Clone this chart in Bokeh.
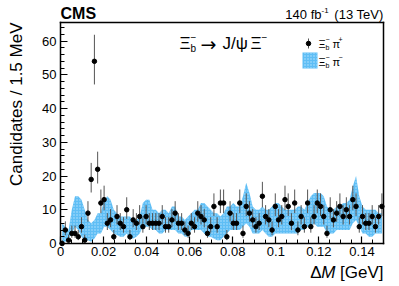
import numpy as np
from bokeh.plotting import figure
from bokeh.models import Range1d, FixedTicker, Label, LinearAxis
from bokeh.embed import file_html
from bokeh.resources import INLINE

# ---- data ----
bin_width = 0.0015
n_bins = 100
counts = [0, 4, 1, 3, 3, 2, 5, 1, 9, 19,
          54, 22, 12, 13, 6, 7, 2, 8, 6, 5,
          10, 2, 7, 6, 8, 5, 8, 6, 6, 6,
          6, 8, 5, 5, 7, 9, 6, 6, 4, 3,
          6, 5, 9, 8, 7, 3, 5, 11, 5, 12,
          12, 2, 9, 6, 6, 12, 3, 11, 9, 7,
          5, 6, 14, 8, 7, 4, 11, 7, 8, 13,
          11, 6, 12, 4, 8, 5, 12, 5, 8, 12,
          11, 8, 3, 10, 7, 9, 11, 8, 10, 8,
          13, 11, 5, 8, 6, 6, 8, 5, 8, 11]
ws_hi = [6, 5, 4, 10, 14, 14, 13, 10, 7, 6,
         7, 9, 9, 13, 14, 13, 10, 9, 8, 8,
         8, 8, 7, 7, 8, 12, 13, 13, 10, 10,
         9, 10, 10, 9, 11, 11, 8, 8, 7, 8,
         9, 10, 10, 12, 12, 11, 10, 9, 9, 8,
         9, 11, 11, 12, 11, 11, 14, 18, 15, 11,
         10, 10, 11, 10, 10, 11, 12, 12, 11, 10,
         10, 10, 10, 11, 11, 10, 12, 14, 15, 15,
         15, 14, 11, 10, 10, 11, 11, 12, 12, 13,
         17, 20, 14, 11, 10, 10, 10, 10, 9, 9]
ws_lo = [0.3, 0.5, 1.5, 3, 5, 4, 2, 1, 1, 0.5,
         1.5, 3, 3, 5, 5, 4, 3, 2.5, 2, 2,
         3, 1.5, 1.5, 2, 3, 5, 5, 5, 4, 4,
         3, 3, 4, 4, 4, 4, 3, 3, 2, 2,
         4, 4, 4, 4, 3, 2, 2, 1.5, 1, 1,
         2, 3, 4, 4, 4, 4, 5, 6, 5, 3,
         3, 3, 4, 3, 2, 2, 3, 3, 3, 3,
         3, 3, 3, 3, 4, 4, 5, 5, 6, 5,
         5, 5, 3, 3, 3, 4, 4, 4, 4, 4,
         6, 7, 5, 3, 3, 2, 2, 3, 3, 3]
x_ticks = [0, 0.02, 0.04, 0.06, 0.08, 0.1, 0.12, 0.14]
x_tick_labels = ["0", "0.02", "0.04", "0.06", "0.08", "0.1", "0.12", "0.14"]
y_ticks = [0, 10, 20, 30, 40, 50, 60]
y_tick_labels = ["0", "10", "20", "30", "40", "50", "60"]

centers = [(i + 0.5) * bin_width for i in range(n_bins)]
cnt = np.array(counts, dtype=float)
err_up = 0.5 + np.sqrt(cnt + 0.25)
err_dn = np.sqrt(cnt + 0.25) - 0.5

X0, X1 = 0.0, 0.15
Y0, Y1 = 0.0, 65.5

# data box in picture pixels, canvas size
FL, FR, FT, FB = 60, 383, 22, 243
W, H = 391, 284
sx = (X1 - X0) / (FR - FL)
sy = (Y1 - Y0) / (FB - FT)
xr = Range1d(X0 - FL * sx, X1 + (W - FR) * sx)
yr = Range1d(Y0 - (H - FB) * sy, Y1 + FT * sy)

p = figure(width=W, height=H, output_backend="svg", toolbar_location=None,
           x_range=xr, y_range=yr, min_border=0,
           min_border_left=0, min_border_right=0, min_border_top=0,
           min_border_bottom=0)
p.title.visible = False
p.grid.visible = False
p.background_fill_color = "white"
p.border_fill_color = "white"
p.outline_line_color = None

FONT = "Liberation Sans"


def style_axis(ax, ticks=True):
    ax.axis_line_width = 1.5
    ax.axis_line_cap = "square"
    ax.axis_line_color = "black"
    ax.major_tick_out = 0
    ax.minor_tick_out = 0
    ax.major_tick_in = 7 if ticks else 0
    ax.minor_tick_in = 4 if ticks else 0
    ax.major_tick_line_width = 1.2
    ax.minor_tick_line_width = 1
    ax.major_label_text_font = FONT
    ax.major_label_text_font_size = "13px"
    ax.major_label_text_color = "black"
    ax.axis_label = None


xa = p.xaxis[0]
ya = p.yaxis[0]
style_axis(xa)
style_axis(ya)
xa.fixed_location = Y0
ya.fixed_location = X0
xa.bounds = (X0, X1)
ya.bounds = (Y0, Y1)
xa.ticker = FixedTicker(ticks=x_ticks, minor_ticks=[i * 0.005 for i in range(31)])
xa.major_label_overrides = {t: l for t, l in zip(x_ticks, x_tick_labels)}
xa.major_label_standoff = 3
ya.ticker = FixedTicker(ticks=y_ticks, minor_ticks=[i * 2 for i in range(33)])
ya.major_label_overrides = {t: l for t, l in zip(y_ticks, y_tick_labels)}
ya.major_label_standoff = 4

top = LinearAxis(fixed_location=Y1, bounds=(X0, X1),
                 ticker=FixedTicker(ticks=[], minor_ticks=[]))
right = LinearAxis(fixed_location=X1, bounds=(Y0, Y1),
                   ticker=FixedTicker(ticks=[], minor_ticks=[]))
style_axis(top, ticks=False)
style_axis(right, ticks=False)
p.add_layout(top, "above")
p.add_layout(right, "right")

BAND = "#5fbef5"
DOTS = "#b8e2fb"
ERR = "#555555"
# WS band
p.varea(x=centers, y1=ws_lo, y2=ws_hi, fill_color=BAND, fill_alpha=1.0,
        hatch_pattern="dot", hatch_color=DOTS, hatch_scale=3, hatch_weight=1)

# RS data
p.segment(x0=centers, y0=list(cnt - err_dn), x1=centers, y1=list(cnt + err_up),
          line_color=ERR, line_width=1)
p.scatter(x=centers, y=counts, size=4.5, color="black")


# ---- texts: picture pixel positions -> data coordinates ----
def dx(X):
    return X0 + (X - FL) * sx


def dy(Y):
    return Y0 + (FB - Y) * sy


def lab(X, Y, text, size, style="normal", align="left", base="middle",
        angle=0.0, color="black", font=FONT):
    p.add_layout(Label(x=dx(X), y=dy(Y), text=text, text_font=font,
                       text_font_size=f"{size}px", text_font_style=style,
                       text_align=align, text_baseline=base, angle=angle,
                       text_color=color))


lab(60, 13, "CMS", 16, style="bold")
lab(383, 14, "(13 TeV)", 13, align="right")
lab(321, 14, "140 fb", 13, align="right")
lab(321, 10, "-1", 8)

# process
lab(179, 43, "Ξ", 17)
lab(190, 48, "b", 10)
lab(190, 36, "−", 10)
lab(200, 43, "→", 19, font="DejaVu Sans")
lab(222, 43, "J/ψ", 17)
lab(250, 43, "Ξ", 17)
lab(261, 36, "−", 10)

# legend
p.quad(left=[dx(302)], right=[dx(317)], top=[dy(52)], bottom=[dy(68)],
       fill_color=BAND, fill_alpha=1.0, line_color=None,
       hatch_pattern="dot", hatch_color=DOTS, hatch_scale=3)
p.segment(x0=[dx(308)], y0=[dy(38)], x1=[dx(308)], y1=[dy(48)],
          line_color=ERR, line_width=1)
p.scatter(x=[dx(308)], y=[dy(43)], size=4.5, color="black")
lab(318, 43, "Ξ", 11)
lab(325, 47, "b", 7)
lab(325, 39, "−", 7)
lab(332, 43, "π", 11)
lab(338, 39, "+", 7)
lab(318, 61, "Ξ", 11)
lab(325, 65, "b", 7)
lab(325, 57, "−", 7)
lab(332, 61, "π", 11)
lab(338, 57, "−", 7)

# axis titles
lab(16, 22, "Candidates / 1.5 MeV", 17, align="right", angle=np.pi / 2)
lab(383, 272, "[GeV]", 17, align="right")
lab(335, 272, "M", 17, style="italic", align="right")
lab(321, 272, "Δ", 17, align="right")

open("out.html", "w").write(file_html(p, INLINE))
